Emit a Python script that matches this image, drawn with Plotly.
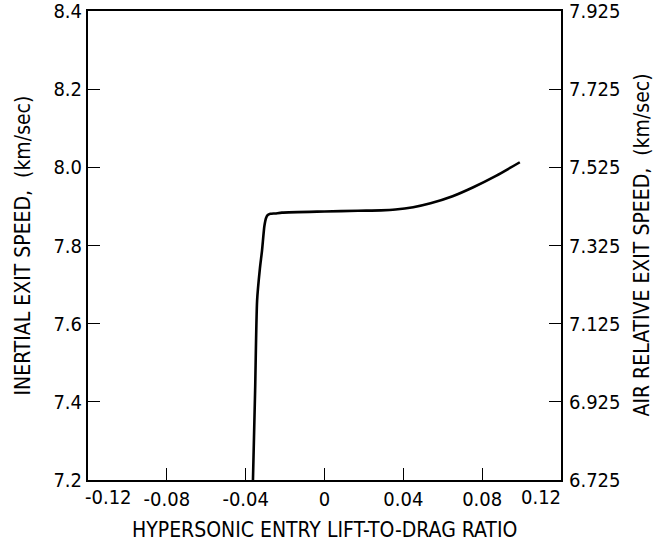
import plotly.graph_objects as go

# Data
ld_ratio = [-0.0363, -0.0352, -0.0342, -0.0328, -0.0317, -0.0305, -0.0296, -0.0288, -0.0275, -0.0250, -0.0216, 0.0, 0.017, 0.0287, 0.036, 0.0450, 0.0538, 0.0650, 0.0755, 0.0870, 0.0991]
inertial_speed = [7.200, 7.430, 7.659, 7.740, 7.787, 7.850, 7.871, 7.878, 7.881, 7.882, 7.884, 7.887, 7.889, 7.890, 7.892, 7.898, 7.908, 7.926, 7.949, 7.978, 8.013]

x_ticks = [-0.08, -0.04, 0, 0.04, 0.08]
x_ticklabels = ["-0.08", "-0.04", "0", "0.04", "0.08"]
x_end_ticks = [-0.12, 0.12]
x_end_labels = ["-0.12", "0.12"]
y_ticks = [7.2, 7.4, 7.6, 7.8, 8.0, 8.2, 8.4]
y_ticklabels = ["7.2", "7.4", "7.6", "7.8", "8.0", "8.2", "8.4"]
y2_ticks = [6.725, 6.925, 7.125, 7.325, 7.525, 7.725, 7.925]
y2_ticklabels = ["6.725", "6.925", "7.125", "7.325", "7.525", "7.725", "7.925"]

FONT = "Liberation Sans Narrow, DejaVu Sans Condensed, Arial Narrow, sans-serif"
TICK_SIZE = 20
TITLE_SIZE = 21

fig = go.Figure()
fig.add_trace(go.Scatter(x=ld_ratio, y=inertial_speed, mode="lines",
                         line=dict(color="black", width=2.6, shape="spline", smoothing=0.6),
                         showlegend=False, hoverinfo="skip"))
fig.add_trace(go.Scatter(x=[0], y=[7.0], yaxis="y2", mode="markers",
                         marker=dict(opacity=0), showlegend=False, hoverinfo="skip"))

common = dict(ticks="inside", ticklen=12, tickwidth=1.2, tickcolor="black",
              showline=True, linecolor="black", linewidth=2,
              showgrid=False, zeroline=False, automargin=False,
              ticklabeloverflow="allow",
              tickfont=dict(size=TICK_SIZE))

fig.update_layout(
    width=661, height=550,
    margin=dict(l=88, r=100, t=11, b=70),
    paper_bgcolor="white", plot_bgcolor="white",
    font=dict(family=FONT, color="black", size=TICK_SIZE),
    xaxis=dict(range=[-0.12, 0.12], tickvals=x_ticks, ticktext=x_ticklabels,
               mirror=True, **common),
    yaxis=dict(range=[7.2, 8.4], tickvals=y_ticks, ticktext=y_ticklabels, **common),
    yaxis2=dict(range=[6.725, 7.925], tickvals=y2_ticks, ticktext=y2_ticklabels,
                overlaying="y", side="right", ticklabelstandoff=2, **common),
)

# end tick labels of the x axis, shifted inward as in the reference
for xv, lab, sh in zip(x_end_ticks, x_end_labels, [20, -20]):
    fig.add_annotation(x=xv, y=0, xref="x", yref="paper", text=lab, showarrow=False,
                       xshift=sh, yshift=-17, yanchor="middle", xanchor="center",
                       font=dict(size=TICK_SIZE))

# axis titles
fig.add_annotation(x=0.5, y=0, xref="paper", yref="paper",
                   text="HYPERSONIC ENTRY LIFT-TO-DRAG RATIO", showarrow=False,
                   yshift=-50, yanchor="middle", font=dict(size=TITLE_SIZE))
fig.add_annotation(x=0, y=0.5, xref="paper", yref="paper",
                   text="INERTIAL EXIT SPEED,  (km/sec)", showarrow=False, textangle=-90,
                   xshift=-66, xanchor="center", yanchor="middle", font=dict(size=TITLE_SIZE))
fig.add_annotation(x=1, y=0.5, xref="paper", yref="paper",
                   text="AIR RELATIVE EXIT SPEED,  (km/sec)", showarrow=False, textangle=-90,
                   xshift=80, xanchor="center", yanchor="middle", font=dict(size=TITLE_SIZE))

fig.write_html("out.html", config={"displayModeBar": False},
               post_script="document.body.style.margin='0';document.body.style.overflow='hidden';")
